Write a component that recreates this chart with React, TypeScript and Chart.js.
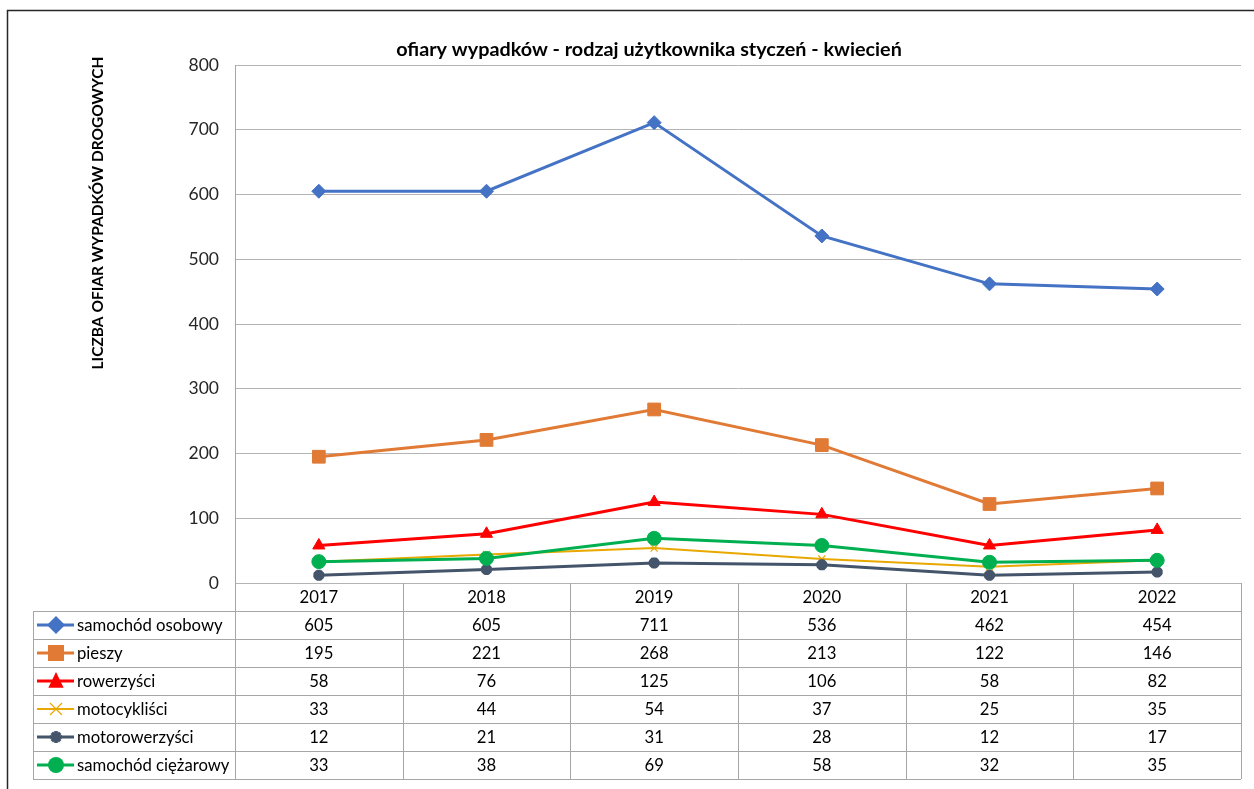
import React, { useEffect, useRef } from 'react';
import { Chart, registerables } from 'chart.js';
Chart.register(...registerables);

const years = ['2017', '2018', '2019', '2020', '2021', '2022'];
const samochodOsobowy = [605, 605, 711, 536, 462, 454];
const pieszy = [195, 221, 268, 213, 122, 146];
const rowerzysci = [58, 76, 125, 106, 58, 82];
const motocyklisci = [33, 44, 54, 37, 25, 35];
const motorowerzysci = [12, 21, 31, 28, 12, 17];
const samochodCiezarowy = [33, 38, 69, 58, 32, 35];
const seriesNames = ['samochód osobowy', 'pieszy', 'rowerzyści', 'motocykliści', 'motorowerzyści', 'samochód ciężarowy'];
const seriesValues = [samochodOsobowy, pieszy, rowerzysci, motocyklisci, motorowerzysci, samochodCiezarowy];
const titleText = 'ofiary wypadków - rodzaj użytkownika styczeń - kwiecień';
const yTitleText = 'LICZBA OFIAR WYPADKÓW DROGOWYCH';

const colors = ['#4472C4', '#E07A35', '#FF0000', '#E8A800', '#44546A', '#00B050'];
const styles = ['rectRot', 'rect', 'triangle', 'crossRot', 'star', 'circle'];
const radii = [7, 9, 7, 5, 5.5, 7];
const widths = [3, 3, 3, 2, 3, 3];
const keyRadii = [9, 8, 9, 6, 6, 8];

const FONT = 'Lato, "Noto Sans", sans-serif';
const GRID = '#b4b4b4';
const TABLE_LINE = '#a6a6a6';

function drawMarker(ctx: CanvasRenderingContext2D, style: string, x: number, y: number, r: number, color: string) {
  ctx.save();
  ctx.fillStyle = color;
  ctx.strokeStyle = color;
  ctx.beginPath();
  if (style === 'rectRot') {
    ctx.moveTo(x, y - r); ctx.lineTo(x + r, y); ctx.lineTo(x, y + r); ctx.lineTo(x - r, y); ctx.closePath(); ctx.fill();
  } else if (style === 'rect') {
    ctx.rect(x - r, y - r, 2 * r, 2 * r); ctx.fill();
  } else if (style === 'triangle') {
    ctx.moveTo(x, y - r); ctx.lineTo(x + r * 0.85, y + r * 0.75); ctx.lineTo(x - r * 0.85, y + r * 0.75); ctx.closePath(); ctx.fill();
  } else if (style === 'crossRot') {
    ctx.lineWidth = 1.2;
    ctx.moveTo(x - r, y - r); ctx.lineTo(x + r, y + r); ctx.moveTo(x + r, y - r); ctx.lineTo(x - r, y + r); ctx.stroke();
  } else if (style === 'star') {
    ctx.lineWidth = 3.5;
    ctx.moveTo(x - r, y); ctx.lineTo(x + r, y); ctx.moveTo(x, y - r); ctx.lineTo(x, y + r);
    ctx.moveTo(x - r * 0.7, y - r * 0.7); ctx.lineTo(x + r * 0.7, y + r * 0.7);
    ctx.moveTo(x + r * 0.7, y - r * 0.7); ctx.lineTo(x - r * 0.7, y + r * 0.7); ctx.stroke();
  } else {
    ctx.arc(x, y, r, 0, Math.PI * 2); ctx.fill();
  }
  ctx.restore();
}

const tablePlugin = {
  id: 'excelTable',
  afterDraw(chart: any) {
    const ctx: CanvasRenderingContext2D = chart.ctx;
    const area = chart.chartArea;
    const left = area.left, right = area.right;
    const colW = (right - left) / years.length;
    const headerTop = area.bottom;
    const rowH = 28;
    const bodyTop = headerTop + rowH;
    const bottom = bodyTop + rowH * seriesNames.length;
    const legendLeft = 33;
    ctx.save();
    // outer border
    ctx.strokeStyle = '#262626';
    ctx.lineWidth = 1.5;
    ctx.strokeRect(7.5, 10.5, 1400, 1000);
    // title
    ctx.fillStyle = '#000';
    ctx.font = `bold 19.8px ${FONT}`;
    ctx.textAlign = 'center';
    ctx.textBaseline = 'middle';
    ctx.fillText(titleText, 649, 50);
    // y title
    ctx.save();
    ctx.translate(98, 213);
    ctx.rotate(-Math.PI / 2);
    ctx.font = `bold 15.5px ${FONT}`;
    ctx.fillText(yTitleText, 0, 0);
    ctx.restore();
    // table lines
    ctx.strokeStyle = TABLE_LINE;
    ctx.lineWidth = 1;
    ctx.beginPath();
    for (let i = 0; i <= years.length; i++) {
      const x = Math.round(left + i * colW) + 0.5;
      ctx.moveTo(x, headerTop); ctx.lineTo(x, bottom);
    }
    ctx.moveTo(legendLeft + 0.5, bodyTop); ctx.lineTo(legendLeft + 0.5, bottom);
    for (let r = 0; r <= seriesNames.length; r++) {
      const y = Math.round(bodyTop + r * rowH) + 0.5;
      ctx.moveTo(legendLeft, y); ctx.lineTo(right, y);
    }
    ctx.stroke();
    // header text
    ctx.fillStyle = '#000';
    ctx.font = `16.7px ${FONT}`;
    ctx.textAlign = 'center';
    for (let i = 0; i < years.length; i++) {
      ctx.fillText(years[i], left + (i + 0.5) * colW, headerTop + rowH / 2 + 1);
    }
    for (let r = 0; r < seriesNames.length; r++) {
      const cy = bodyTop + r * rowH + rowH / 2;
      // legend key
      ctx.save();
      ctx.strokeStyle = colors[r];
      ctx.lineWidth = widths[r];
      ctx.beginPath();
      ctx.moveTo(37, cy); ctx.lineTo(74, cy); ctx.stroke();
      ctx.restore();
      drawMarker(ctx, styles[r], 56, cy, keyRadii[r], colors[r]);
      ctx.fillStyle = '#000';
      ctx.textAlign = 'left';
      ctx.fillText(seriesNames[r], 77, cy + 1);
      ctx.textAlign = 'center';
      for (let i = 0; i < years.length; i++) {
        ctx.fillText(String(seriesValues[r][i]), left + (i + 0.5) * colW, cy + 1);
      }
    }
    // axis line extension
    ctx.strokeStyle = TABLE_LINE;
    ctx.beginPath();
    ctx.moveTo(Math.round(left) + 0.5, area.top); ctx.lineTo(Math.round(left) + 0.5, bottom);
    ctx.stroke();
    ctx.restore();
  },
};

export default function App() {
  const ref = useRef<HTMLCanvasElement | null>(null);
  useEffect(() => {
    if (!ref.current) return;
    const chart = new Chart(ref.current, {
      type: 'line',
      data: {
        labels: years,
        datasets: seriesNames.map((name, i) => ({
          label: name,
          data: seriesValues[i],
          borderColor: colors[i],
          backgroundColor: colors[i],
          borderWidth: widths[i],
          pointStyle: styles[i] as any,
          pointRadius: radii[i],
          pointBorderWidth: styles[i] === 'crossRot' ? 1.2 : styles[i] === 'star' ? 4 : 1,
          pointBorderColor: colors[i],
          pointBackgroundColor: colors[i],
          tension: 0,
          order: seriesNames.length - 1 - i,
        })),
      },
      options: {
        animation: false,
        responsive: false,
        layout: { padding: { left: 175, right: 13, top: 65, bottom: 206 } },
        plugins: { legend: { display: false }, tooltip: { enabled: false }, title: { display: false } },
        scales: {
          x: { display: false, offset: true },
          y: {
            min: 0, max: 800,
            ticks: { stepSize: 100, padding: 16, color: '#262626', font: { family: FONT, size: 17.5 } },
            grid: { color: GRID, drawTicks: false },
            border: { display: true, color: TABLE_LINE },
            afterFit: (s: any) => { s.width = 60; },
          },
        },
      },
      plugins: [tablePlugin],
    });
    return () => chart.destroy();
  }, []);
  return (
    <div style={{ position: 'absolute', left: 0, top: 0, width: 1254, height: 789, background: '#fff' }}>
      <canvas ref={ref} width={1254} height={789} style={{ width: 1254, height: 789, display: 'block' }} />
    </div>
  );
}
